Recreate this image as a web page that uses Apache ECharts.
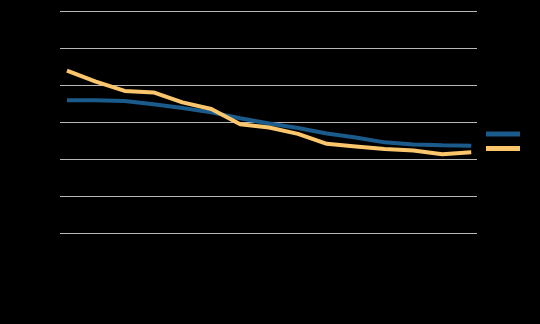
<!DOCTYPE html>
<html>
<head>
<meta charset="utf-8">
<script src="https://cdn.jsdelivr.net/npm/echarts@6/dist/echarts.min.js"></script>
<style>
html,body{margin:0;padding:0;background:#000;}
#chart{width:540px;height:324px;}
</style>
</head>
<body>
<div id="chart"></div>
<script>
// x positions (index of each observation)
var xIndex = [0,1,2,3,4,5,6,7,8,9,10,11,12,13,14];
var seriesNames = ['Series 1', 'Series 2'];
var blueValues = [35.9,35.9,35.7,34.8,33.8,32.6,31.0,29.6,28.4,26.9,25.8,24.5,23.9,23.7,23.6];
var orangeValues = [43.9,40.9,38.4,38.0,35.3,33.5,29.4,28.5,26.8,24.1,23.4,22.7,22.3,21.3,21.8];
var yMin = 0, yMax = 60, yStep = 10;

function pairs(vals){ return xIndex.map(function(x,i){ return [x, vals[i]]; }); }

var chart = echarts.init(document.getElementById('chart'), null, {renderer:'canvas'});
chart.setOption({
  backgroundColor: '#000',
  animation: false,
  grid: {left: 60, right: 63, top: 11, bottom: 91, containLabel: false},
  xAxis: {
    type: 'value', min: -0.24, max: 14.2,
    axisLine: {show: false}, axisTick: {show: false}, axisLabel: {show: false},
    splitLine: {show: false}
  },
  yAxis: {
    type: 'value', min: yMin, max: yMax, interval: yStep,
    axisLine: {show: false}, axisTick: {show: false}, axisLabel: {show: false},
    splitLine: {show: true, lineStyle: {color: '#b8b8b8', width: 1}}
  },
  legend: {
    orient: 'vertical', left: 486, top: 131.5, padding: 0,
    icon: 'rect', itemWidth: 34, itemHeight: 5, itemGap: 9.5,
    formatter: function(){ return ''; },
    textStyle: {color: '#000', fontSize: 10},
    data: seriesNames
  },
  series: [
    {name: seriesNames[0], type: 'line', data: pairs(blueValues), showSymbol: false,
     lineStyle: {color: '#1b5b8c', width: 4}, itemStyle: {color: '#1b5b8c'}},
    {name: seriesNames[1], type: 'line', data: pairs(orangeValues), showSymbol: false,
     lineStyle: {color: '#fcc66c', width: 4}, itemStyle: {color: '#fcc66c'}}
  ]
});
</script>
</body>
</html>
